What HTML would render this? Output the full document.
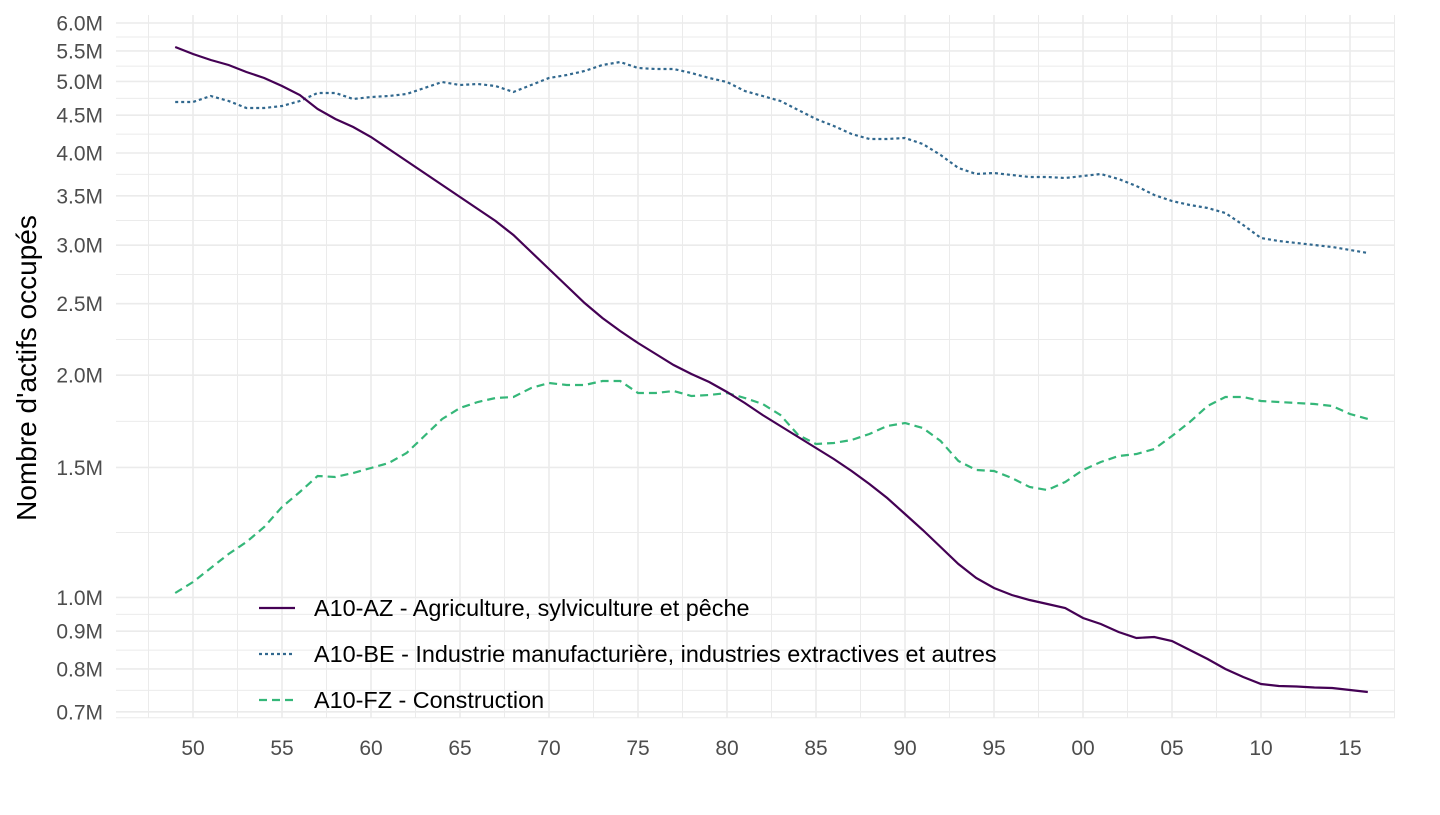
<!DOCTYPE html>
<html><head><meta charset="utf-8"><style>
body{margin:0;background:#fff;}
svg text{font-family:"Liberation Sans",Arial,sans-serif;}
</style></head><body>
<svg id="s" width="1440" height="810" xmlns="http://www.w3.org/2000/svg"></svg>
<script>
const s=document.getElementById('s');
const L=116,R=1395,T=15,B=718;
const Y=v=>23+(Math.log(6)-Math.log(v))*320.6;
const X=yr=>193+(yr-1950)*17.8;
let h='';
const maj=[0.7,0.8,0.9,1.0,1.5,2.0,2.5,3.0,3.5,4.0,4.5,5.0,5.5,6.0];
for(let i=0;i<maj.length-1;i++){const m=Math.sqrt(maj[i]*maj[i+1]);h+=`<line x1="${L}" x2="${R}" y1="${Y(m)}" y2="${Y(m)}" stroke="#ebebeb" stroke-width="1"/>`;}
h+=`<line x1="${L}" x2="${R}" y1="${Y(0.7)+6}" y2="${Y(0.7)+6}" stroke="#ebebeb" stroke-width="1"/>`;
for(let yr=1947.5;yr<=2018;yr+=2.5){const maj5=(yr%5===0);h+=`<line x1="${X(yr)}" x2="${X(yr)}" y1="${T}" y2="${B}" stroke="#ebebeb" stroke-width="${maj5?1.6:1}"/>`;}
maj.forEach(v=>{h+=`<line x1="${L}" x2="${R}" y1="${Y(v)}" y2="${Y(v)}" stroke="#ebebeb" stroke-width="1.6"/>`;
h+=`<text x="103" y="${Y(v)+7.5}" font-size="21" fill="#4d4d4d" text-anchor="end">${v.toFixed(1)}M</text>`;});
const xl=['50','55','60','65','70','75','80','85','90','95','00','05','10','15'];
xl.forEach((t,i)=>{h+=`<text x="${X(1950+5*i)}" y="755" font-size="21" fill="#4d4d4d" text-anchor="middle">${t}</text>`;});
h+=`<text transform="translate(36,368) rotate(-90)" font-size="28" fill="#000" text-anchor="middle">Nombre d'actifs occupés</text>`;
const AZ=[47,54,60,65,72,78,86,95,109,119,127,137,149,161,173,185,197,209,221,235,252,269,286,303,318,331,343,354,365,374,382,392,403,415,426,437,448,459,471,484,498,514,530,547,564,578,588,595,600,604,608,618,624,632,638,637,641,650,659,669,677,684,686,686.5,687.5,688,690,692];
const BE=[102,102,96,101,108,108,106,101,93,93,99,97,96,94,88,82,85,84,86,92,85,78,75,71,65,62,68,69,69,73,78,82,91,96,101,110,119,126,134,139,139,138,144,155,168,174,173,175,177,177,178,176,174,179,186,195,201,205,208,213,225,238,241,243,245,247,250,253];
const FZ=[593,582,568,554,542,527,507,492,476,477,473,468,463,453,436,419,408,402,398,397,388,383,385,385,381,381,393,393,391,396,395,393,398,404,415,435,444,443,440,434,426,423,428,441,461,470,471,478,487,490,482,470,462,456,454,449,436,422,406,397,397,401,402,403,404,406,414,419];
const pts=a=>a.map((y,i)=>`${X(1949+i).toFixed(1)},${y}`).join(' ');
h+=`<polyline points="${pts(FZ)}" fill="none" stroke="#35b779" stroke-width="2.2" stroke-dasharray="8,5"/>`;
h+=`<polyline points="${pts(BE)}" fill="none" stroke="#31688e" stroke-width="2.2" stroke-dasharray="3,3"/>`;
h+=`<polyline points="${pts(AZ)}" fill="none" stroke="#440154" stroke-width="2.2"/>`;
const lg=[['#440154','','A10-AZ - Agriculture, sylviculture et pêche',608],['#31688e','3,3','A10-BE - Industrie manufacturière, industries extractives et autres',654],['#35b779','8,5','A10-FZ - Construction',700]];
lg.forEach(([c,d,t,y])=>{h+=`<line x1="259" x2="295" y1="${y}" y2="${y}" stroke="${c}" stroke-width="2.2" ${d?`stroke-dasharray="${d}"`:''}/><text x="314" y="${y+8}" font-size="23.4" fill="#000">${t}</text>`;});
s.innerHTML=h;
</script>
</body></html>
